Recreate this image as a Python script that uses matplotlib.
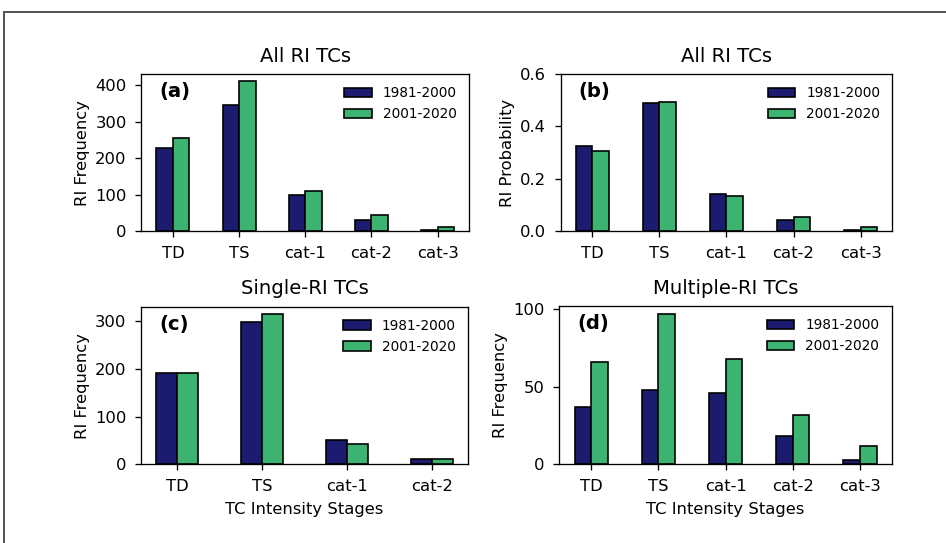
import numpy as np
import matplotlib
matplotlib.use('Agg')
import matplotlib.pyplot as plt
from matplotlib.patches import Rectangle

# data
stages5 = ['TD', 'TS', 'cat-1', 'cat-2', 'cat-3']
stages4 = ['TD', 'TS', 'cat-1', 'cat-2']
periods = ['1981-2000', '2001-2020']

all_freq_p1 = [227, 345, 98, 29, 3]
all_freq_p2 = [256, 411, 111, 43, 12]
all_prob_p1 = [0.323, 0.491, 0.140, 0.041, 0.004]
all_prob_p2 = [0.307, 0.493, 0.133, 0.052, 0.014]
single_p1 = [190, 297, 52, 11]
single_p2 = [190, 314, 43, 11]
multi_p1 = [37, 48, 46, 18, 3]
multi_p2 = [66, 97, 68, 32, 12]

BLUE = '#1b1b6f'
GREEN = '#3cb371'
W = 0.25
DPI = 118

plt.rcParams['font.size'] = 10
plt.rcParams['xtick.major.pad'] = 5.5
plt.rcParams['ytick.major.pad'] = 5.5

fig = plt.figure(figsize=(947 / DPI, 543 / DPI), dpi=DPI)

# panel boxes (left, bottom, width, height) in figure fractions
boxes = {
  'a': [0.1494, 0.5746, 0.3458, 0.2891],
  'b': [0.5919, 0.5746, 0.3505, 0.2891],
  'c': [0.1489, 0.1446, 0.3453, 0.2909],
  'd': [0.5908, 0.1450, 0.3507, 0.2914],
}

panels = [
  ('a', 'All RI TCs', stages5, all_freq_p1, all_freq_p2, 'RI Frequency', False, [0, 100, 200, 300, 400], None),
  ('b', 'All RI TCs', stages5, all_prob_p1, all_prob_p2, 'RI Probability', False, [0.0, 0.2, 0.4, 0.6], (0, 0.6)),
  ('c', 'Single-RI TCs', stages4, single_p1, single_p2, 'RI Frequency', True, [0, 100, 200, 300], None),
  ('d', 'Multiple-RI TCs', stages5, multi_p1, multi_p2, 'RI Frequency', True, [0, 50, 100], None),
]

for tag, title, cats, v1, v2, ylab, xlab, yticks, ylim in panels:
  ax = fig.add_axes(boxes[tag])
  x = np.arange(len(cats))
  ax.bar(x - W / 2, v1, W, color=BLUE, edgecolor='black', linewidth=1, label=periods[0])
  ax.bar(x + W / 2, v2, W, color=GREEN, edgecolor='black', linewidth=1, label=periods[1])
  ax.set_xticks(x)
  ax.set_xticklabels(cats)
  ax.set_yticks(yticks)
  if ylim is not None:
    ax.set_ylim(*ylim)
  ax.set_title(title, fontsize=12, pad=7.5)
  ax.set_ylabel(ylab, labelpad=3)
  if xlab:
    ax.set_xlabel('TC Intensity Stages', labelpad=5)
  ax.text(0.055, 0.887, '(%s)' % tag, transform=ax.transAxes, fontsize=12,
          fontweight='bold', ha='left', va='center')
  leg = ax.legend(loc='upper right', frameon=False, fontsize='small')

# outer frame of the figure (only left and top edges visible)
fig.add_artist(Rectangle((4 / 947, -0.2), 1.2, 1.2 - 12 / 543, transform=fig.transFigure,
                         fill=False, edgecolor='#555555', linewidth=1.2))

fig.savefig('out.png', dpi=DPI)
